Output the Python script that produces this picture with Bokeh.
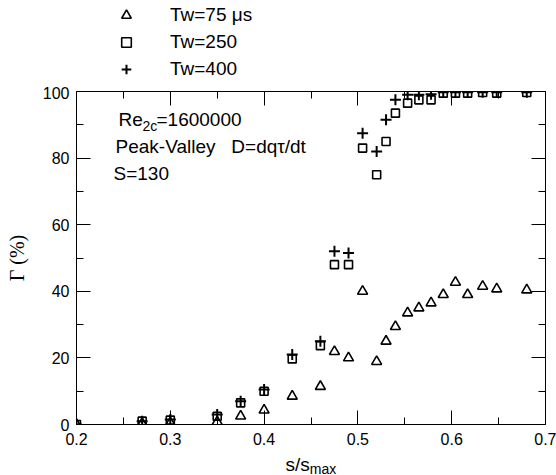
from bokeh.plotting import figure
from bokeh.layouts import column
from bokeh.models import (LinearAxis, FixedTicker, Label, Legend,
                          LegendItem, Range1d)
from bokeh.embed import file_html
from bokeh.resources import INLINE

# ---- data ----
x_tw75 = [0.20, 0.27, 0.30, 0.35, 0.375, 0.40, 0.43, 0.46, 0.475, 0.49, 0.505, 0.52,
          0.53, 0.54, 0.553, 0.565, 0.578, 0.591, 0.604, 0.617, 0.633, 0.648, 0.68]
g_tw75 = [0.0, 0.3, 0.5, 0.8, 2.5, 4.3, 8.5, 11.4, 21.9, 20.0, 40.0, 18.9,
          25.0, 29.4, 33.5, 35.0, 36.5, 39.0, 42.7, 39.0, 41.5, 40.7, 40.4]

x_tw250 = [0.20, 0.27, 0.30, 0.35, 0.375, 0.40, 0.43, 0.46, 0.475, 0.49, 0.505, 0.52,
           0.53, 0.54, 0.553, 0.565, 0.578, 0.591, 0.604, 0.617, 0.633, 0.648, 0.68]
g_tw250 = [0.0, 1.0, 1.3, 2.5, 6.5, 10.0, 19.7, 23.7, 48.0, 48.0, 83.0, 75.0,
           85.0, 93.5, 96.5, 97.5, 97.5, 99.5, 99.5, 99.5, 99.7, 99.5, 99.7]

x_tw400 = [0.20, 0.27, 0.30, 0.35, 0.375, 0.40, 0.43, 0.46, 0.475, 0.49, 0.505, 0.52,
           0.53, 0.54, 0.553, 0.565, 0.578, 0.591, 0.604, 0.617, 0.633, 0.648, 0.68]
g_tw400 = [0.0, 1.0, 1.5, 3.0, 7.0, 10.5, 21.0, 25.0, 52.0, 51.5, 87.5, 82.0,
           91.5, 97.5, 99.0, 99.0, 99.2, 99.8, 99.8, 99.8, 99.8, 99.8, 99.8]

legend_labels = ["Tw=75 \u03bcs", "Tw=250", "Tw=400"]

x_major = [0.2, 0.3, 0.4, 0.5, 0.6, 0.7]
x_minor = [0.25, 0.35, 0.45, 0.55, 0.65]
x_tick_text = ["0.2", "0.3", "0.4", "0.5", "0.6", "0.7"]
y_major = [0, 20, 40, 60, 80, 100]
y_minor = [10, 30, 50, 70, 90]

FONT = "Liberation Sans"
W, H = 556, 475
FL, FR = 76, 11
FRAME_TOP = 91      # page coordinates
FRAME_BOTTOM = 424
TOP_H = 86          # strip holding the legend
MAIN_BB = 26        # room under the frame for the tick labels
MAIN_H = FRAME_BOTTOM - TOP_H + MAIN_BB
BOT_H = H - TOP_H - MAIN_H   # strip holding the x-axis title

MARK = dict(
    tw75=dict(marker="triangle", size=10, fill_color=None, line_color="black", line_width=1.6),
    tw250=dict(marker="square", size=8, fill_color=None, line_color="black", line_width=1.6),
    tw400=dict(marker="cross", size=11, line_color="black", line_width=2),
)

def blank_fig(h, **kw):
    f = figure(width=W, height=h, output_backend="svg", toolbar_location=None,
               x_axis_location=None, y_axis_location=None,
               min_border_left=FL, min_border_right=FR, min_border_top=0, min_border_bottom=0,
               **kw)
    f.grid.visible = False
    f.outline_line_color = None
    f.background_fill_color = "white"
    f.border_fill_color = "white"
    return f

# ---------------- main chart ----------------
p = figure(width=W, height=MAIN_H, x_range=Range1d(0.2, 0.7), y_range=Range1d(0, 100),
           output_backend="svg", toolbar_location=None,
           min_border_left=FL, min_border_right=FR,
           min_border_top=FRAME_TOP - TOP_H, min_border_bottom=MAIN_BB)
p.grid.visible = False
p.outline_line_color = "black"
p.outline_line_width = 1
p.background_fill_color = "white"
p.border_fill_color = "white"

def style(ax, ticker, labels=True):
    ax.ticker = ticker
    ax.major_tick_in = 14
    ax.major_tick_out = 0
    ax.minor_tick_in = 7
    ax.minor_tick_out = 0
    ax.axis_line_color = "black"
    ax.major_tick_line_color = "black"
    ax.minor_tick_line_color = "black"
    ax.major_label_text_font = FONT
    ax.major_label_text_color = "black"
    if labels:
        ax.major_label_text_font_size = "16px"
    else:
        ax.major_label_text_font_size = "0px"
        ax.major_label_standoff = 0

xa = p.xaxis[0]
style(xa, FixedTicker(ticks=x_major, minor_ticks=x_minor))
xa.major_label_overrides = {v: t for v, t in zip(x_major, x_tick_text)}
xa.major_label_standoff = 8

ya = p.yaxis[0]
style(ya, FixedTicker(ticks=y_major, minor_ticks=y_minor))
ya.major_label_standoff = 7
ya.axis_label = "\u0393 (%)"
ya.axis_label_text_font = "Liberation Serif"
ya.axis_label_text_font_style = "normal"
ya.axis_label_text_font_size = "20px"
ya.axis_label_text_color = "black"
ya.axis_label_standoff = 12

top = LinearAxis()
style(top, FixedTicker(ticks=x_major, minor_ticks=x_minor), labels=False)
p.add_layout(top, "above")
right = LinearAxis()
style(right, FixedTicker(ticks=y_major, minor_ticks=y_minor), labels=False)
p.add_layout(right, "right")

p.scatter(x_tw75, g_tw75, **MARK["tw75"])
p.scatter(x_tw250, g_tw250, **MARK["tw250"])
p.scatter(x_tw400, g_tw400, **MARK["tw400"])

def lab(fig, text, cx, cy, size, page_bottom):
    fig.add_layout(Label(x=cx - FL, y=page_bottom - cy,
                         x_units="screen", y_units="screen",
                         text=text, text_font=FONT, text_font_size=size,
                         text_baseline="alphabetic", text_align="left",
                         text_color="black"))

NB = "\u00a0"
lab(p, "Re", 118, 119, "19px", FRAME_BOTTOM)
lab(p, "2c", 142, 125, "14px", FRAME_BOTTOM)
lab(p, "=1600000", 156, 119, "19px", FRAME_BOTTOM)
lab(p, "Peak-Valley" + NB * 3 + "D=dq\u03c4/dt", 115, 146, "19px", FRAME_BOTTOM)
lab(p, "S=130", 113, 173, "19px", FRAME_BOTTOM)

# ---------------- legend strip (above the chart) ----------------
# the series are attached here only to feed the legend keys; the strip's ranges keep them out of view
pt = blank_fig(TOP_H, x_range=Range1d(10, 11), y_range=Range1d(10, 11))
k1 = pt.scatter(x_tw75, g_tw75, **MARK["tw75"])
k2 = pt.scatter(x_tw250, g_tw250, **MARK["tw250"])
k3 = pt.scatter(x_tw400, g_tw400, **MARK["tw400"])
legend = Legend(items=[LegendItem(label=legend_labels[0], renderers=[k1]),
                       LegendItem(label=legend_labels[1], renderers=[k2]),
                       LegendItem(label=legend_labels[2], renderers=[k3])],
                location=(114 - FL, TOP_H - 81),
                orientation="vertical", glyph_width=24, glyph_height=24,
                label_height=24, spacing=3, padding=0, margin=0,
                label_standoff=32, label_text_font=FONT,
                label_text_font_size="19px", label_text_color="black",
                border_line_alpha=0, background_fill_alpha=0)
pt.add_layout(legend, "center")

# ---------------- x-axis title strip (below the chart) ----------------
pb = blank_fig(BOT_H)
lab(pb, "s/s", 285, 464, "19px", H)
lab(pb, "max", 309.3, 468, "14px", H)

layout = column(pt, p, pb, spacing=0)
open("out.html", "w").write(file_html(layout, INLINE))
